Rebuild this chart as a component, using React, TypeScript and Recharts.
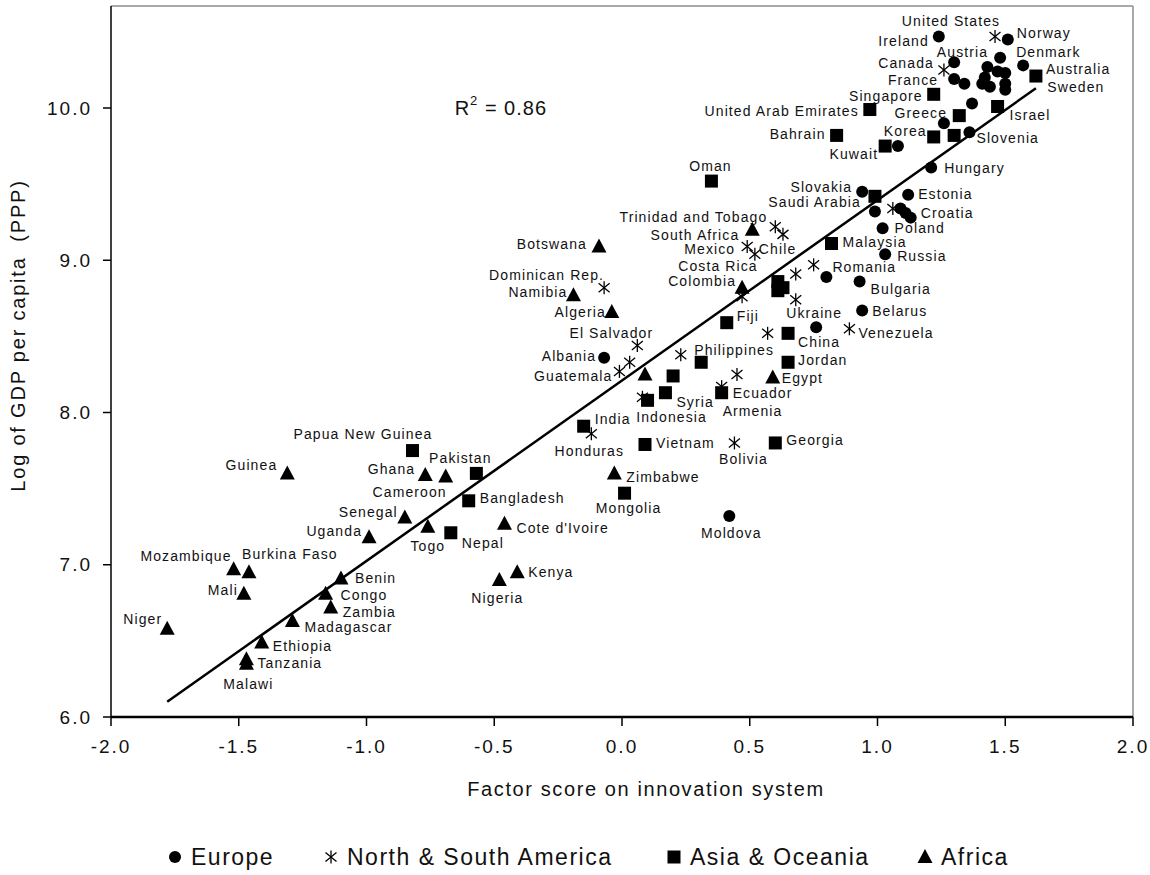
import React from 'react';
import { ScatterChart, Scatter, XAxis, YAxis, ReferenceLine } from 'recharts';

const FONT = '"Liberation Sans", Arial, Helvetica, sans-serif';

type Pt = { name: string; x: number; y: number };

const europe: Pt[] = [
  { name: 'Ireland', x: 1.24, y: 10.47 },
  { name: 'Norway', x: 1.51, y: 10.45 },
  { name: 'Austria', x: 1.48, y: 10.33 },
  { name: '', x: 1.3, y: 10.3 },
  { name: 'France', x: 1.3, y: 10.19 },
  { name: '', x: 1.34, y: 10.16 },
  { name: '', x: 1.43, y: 10.27 },
  { name: '', x: 1.42, y: 10.2 },
  { name: '', x: 1.41, y: 10.16 },
  { name: '', x: 1.44, y: 10.14 },
  { name: '', x: 1.47, y: 10.24 },
  { name: '', x: 1.5, y: 10.23 },
  { name: '', x: 1.5, y: 10.16 },
  { name: 'Sweden', x: 1.5, y: 10.12 },
  { name: 'Denmark', x: 1.57, y: 10.28 },
  { name: 'Greece', x: 1.37, y: 10.03 },
  { name: '', x: 1.26, y: 9.9 },
  { name: 'Slovenia', x: 1.36, y: 9.84 },
  { name: '', x: 1.08, y: 9.75 },
  { name: 'Hungary', x: 1.21, y: 9.61 },
  { name: 'Slovakia', x: 0.94, y: 9.45 },
  { name: 'Estonia', x: 1.12, y: 9.43 },
  { name: '', x: 0.99, y: 9.32 },
  { name: '', x: 1.09, y: 9.34 },
  { name: '', x: 1.11, y: 9.31 },
  { name: 'Croatia', x: 1.13, y: 9.28 },
  { name: 'Poland', x: 1.02, y: 9.21 },
  { name: 'Russia', x: 1.03, y: 9.04 },
  { name: 'Romania', x: 0.8, y: 8.89 },
  { name: 'Bulgaria', x: 0.93, y: 8.86 },
  { name: 'Belarus', x: 0.94, y: 8.67 },
  { name: 'Ukraine', x: 0.76, y: 8.56 },
  { name: 'Albania', x: -0.07, y: 8.36 },
  { name: 'Moldova', x: 0.42, y: 7.32 },
];

const americas: Pt[] = [
  { name: 'United States', x: 1.46, y: 10.47 },
  { name: 'Canada', x: 1.26, y: 10.25 },
  { name: '', x: 1.06, y: 9.34 },
  { name: 'Trinidad and Tobago', x: 0.6, y: 9.22 },
  { name: '', x: 0.63, y: 9.17 },
  { name: 'Mexico', x: 0.49, y: 9.09 },
  { name: 'Chile', x: 0.52, y: 9.04 },
  { name: '', x: 0.75, y: 8.97 },
  { name: 'Costa Rica', x: 0.68, y: 8.91 },
  { name: '', x: 0.68, y: 8.74 },
  { name: 'Colombia', x: 0.47, y: 8.76 },
  { name: 'Venezuela', x: 0.89, y: 8.55 },
  { name: '', x: 0.57, y: 8.52 },
  { name: 'Dominican Rep.', x: -0.07, y: 8.82 },
  { name: 'El Salvador', x: 0.06, y: 8.44 },
  { name: 'Guatemala', x: -0.01, y: 8.27 },
  { name: '', x: 0.03, y: 8.33 },
  { name: '', x: 0.23, y: 8.38 },
  { name: '', x: 0.45, y: 8.25 },
  { name: 'Ecuador', x: 0.39, y: 8.17 },
  { name: '', x: 0.08, y: 8.1 },
  { name: 'Honduras', x: -0.12, y: 7.86 },
  { name: 'Bolivia', x: 0.44, y: 7.8 },
];

const asia: Pt[] = [
  { name: 'Australia', x: 1.62, y: 10.21 },
  { name: 'Singapore', x: 1.22, y: 10.09 },
  { name: 'United Arab Emirates', x: 0.97, y: 9.99 },
  { name: '', x: 1.32, y: 9.95 },
  { name: 'Israel', x: 1.47, y: 10.01 },
  { name: 'Korea', x: 1.22, y: 9.81 },
  { name: '', x: 1.3, y: 9.82 },
  { name: 'Bahrain', x: 0.84, y: 9.82 },
  { name: 'Kuwait', x: 1.03, y: 9.75 },
  { name: 'Oman', x: 0.35, y: 9.52 },
  { name: 'Saudi Arabia', x: 0.99, y: 9.42 },
  { name: 'Malaysia', x: 0.82, y: 9.11 },
  { name: '', x: 0.61, y: 8.86 },
  { name: '', x: 0.63, y: 8.82 },
  { name: '', x: 0.61, y: 8.8 },
  { name: 'Fiji', x: 0.41, y: 8.59 },
  { name: 'China', x: 0.65, y: 8.52 },
  { name: 'Jordan', x: 0.65, y: 8.33 },
  { name: '', x: 0.2, y: 8.24 },
  { name: 'Philippines', x: 0.31, y: 8.33 },
  { name: 'Armenia', x: 0.39, y: 8.13 },
  { name: 'Syria', x: 0.17, y: 8.13 },
  { name: 'Indonesia', x: 0.1, y: 8.08 },
  { name: 'India', x: -0.15, y: 7.91 },
  { name: 'Vietnam', x: 0.09, y: 7.79 },
  { name: 'Georgia', x: 0.6, y: 7.8 },
  { name: 'Papua New Guinea', x: -0.82, y: 7.75 },
  { name: 'Pakistan', x: -0.57, y: 7.6 },
  { name: 'Bangladesh', x: -0.6, y: 7.42 },
  { name: 'Nepal', x: -0.67, y: 7.21 },
  { name: 'Mongolia', x: 0.01, y: 7.47 },
];

const africa: Pt[] = [
  { name: 'South Africa', x: 0.51, y: 9.2 },
  { name: 'Botswana', x: -0.09, y: 9.09 },
  { name: 'Namibia', x: -0.19, y: 8.77 },
  { name: 'Algeria', x: -0.04, y: 8.66 },
  { name: '', x: 0.47, y: 8.82 },
  { name: '', x: 0.09, y: 8.25 },
  { name: 'Egypt', x: 0.59, y: 8.23 },
  { name: 'Zimbabwe', x: -0.03, y: 7.6 },
  { name: 'Guinea', x: -1.31, y: 7.6 },
  { name: 'Ghana', x: -0.77, y: 7.59 },
  { name: 'Cameroon', x: -0.69, y: 7.58 },
  { name: 'Senegal', x: -0.85, y: 7.31 },
  { name: 'Togo', x: -0.76, y: 7.25 },
  { name: 'Uganda', x: -0.99, y: 7.18 },
  { name: "Cote d'Ivoire", x: -0.46, y: 7.27 },
  { name: 'Kenya', x: -0.41, y: 6.95 },
  { name: 'Nigeria', x: -0.48, y: 6.9 },
  { name: 'Mozambique', x: -1.52, y: 6.97 },
  { name: 'Burkina Faso', x: -1.46, y: 6.95 },
  { name: 'Mali', x: -1.48, y: 6.81 },
  { name: 'Niger', x: -1.78, y: 6.58 },
  { name: 'Benin', x: -1.1, y: 6.91 },
  { name: 'Congo', x: -1.16, y: 6.81 },
  { name: 'Zambia', x: -1.14, y: 6.72 },
  { name: 'Madagascar', x: -1.29, y: 6.63 },
  { name: 'Ethiopia', x: -1.41, y: 6.49 },
  { name: 'Tanzania', x: -1.47, y: 6.38 },
  { name: 'Malawi', x: -1.47, y: 6.35 },
];

const xTicks = [-2, -1.5, -1, -0.5, 0, 0.5, 1, 1.5, 2];
const yTicks = [6, 7, 8, 9, 10];
const xDomain: [number, number] = [-2, 2];
const yDomain: [number, number] = [6, 10.67];
const seriesNames = ['Europe', 'North & South America', 'Asia & Oceania', 'Africa'];
const xTitle = 'Factor score on innovation system';
const yTitle = 'Log of GDP per capita  (PPP)';
const fit = { slope: 1.185, intercept: 8.21, xFrom: -1.78, xTo: 1.62 };
const r2Value = '0.86';
const r2Anchor = [{ x: -0.655, y: 10.0 }];

// label placement: [anchor, dx, dy] in pixels relative to marker
const labelPlacement: Record<string, [string, number, number]> = {
  Ireland: ['end', -10, 5],
  Norway: ['start', 9, -6],
  Austria: ['end', -12, -6],
  France: ['end', -16, 1],
  Sweden: ['start', 42, -3],
  Denmark: ['start', -7, -13],
  Greece: ['end', -25, 10],
  Slovenia: ['start', 7, 6],
  Hungary: ['start', 13, 1],
  Slovakia: ['end', -10, -5],
  Estonia: ['start', 10, -1],
  Croatia: ['start', 10, -5],
  Poland: ['start', 12, 0],
  Russia: ['start', 12, 2],
  Romania: ['start', 6, -10],
  Bulgaria: ['start', 11, 7],
  Belarus: ['start', 10, 1],
  Ukraine: ['middle', -2, -14],
  Albania: ['end', -8, -2],
  Moldova: ['middle', 2, 17],
  'United States': ['middle', -44, -15],
  Canada: ['end', -10, -7],
  'Trinidad and Tobago': ['end', -8, -10],
  Mexico: ['end', -12, 2],
  Chile: ['start', 4, -5],
  'Costa Rica': ['end', -38, -8],
  Colombia: ['end', -6, -16],
  Venezuela: ['start', 9, 4],
  'Dominican Rep.': ['end', 0, -13],
  'El Salvador': ['middle', -26, -13],
  Guatemala: ['end', -7, 5],
  Ecuador: ['start', 11, 6],
  Honduras: ['middle', -2, 17],
  Bolivia: ['middle', 9, 16],
  Australia: ['start', 10, -7],
  Singapore: ['end', -11, 2],
  'United Arab Emirates': ['end', -11, 1],
  Israel: ['start', 12, 9],
  Korea: ['end', -7, -6],
  Bahrain: ['end', -11, -1],
  Kuwait: ['end', -7, 8],
  Oman: ['middle', -1, -15],
  'Saudi Arabia': ['end', -14, 6],
  Malaysia: ['start', 11, -2],
  Fiji: ['start', 10, -7],
  China: ['start', 10, 9],
  Jordan: ['start', 10, -2],
  Philippines: ['start', -7, -12],
  Armenia: ['start', 1, 18],
  Syria: ['start', 11, 9],
  Indonesia: ['middle', 24, 17],
  India: ['start', 11, -7],
  Vietnam: ['start', 11, -1],
  Georgia: ['start', 11, -3],
  'Papua New Guinea': ['end', 20, -17],
  Pakistan: ['middle', -16, -15],
  Bangladesh: ['start', 11, -3],
  Nepal: ['start', 11, 10],
  Mongolia: ['middle', 4, 15],
  'South Africa': ['end', -13, 5],
  Botswana: ['end', -12, -3],
  Namibia: ['end', -6, -3],
  Algeria: ['end', -6, 0],
  Egypt: ['start', 9, 1],
  Zimbabwe: ['start', 12, 4],
  Guinea: ['end', -10, -8],
  Ghana: ['end', -10, -6],
  Cameroon: ['end', 1, 16],
  Senegal: ['end', -7, -6],
  Togo: ['middle', 0, 19],
  Uganda: ['end', -7, -6],
  "Cote d'Ivoire": ['start', 12, 4],
  Kenya: ['start', 11, 0],
  Nigeria: ['middle', -2, 18],
  Mozambique: ['end', -2, -13],
  'Burkina Faso': ['start', -7, -18],
  Mali: ['end', -6, -4],
  Niger: ['end', -5, -10],
  Benin: ['start', 14, 0],
  Congo: ['start', 15, 1],
  Zambia: ['start', 12, 5],
  Madagascar: ['start', 12, 6],
  Ethiopia: ['start', 11, 4],
  Tanzania: ['start', 11, 4],
  Malawi: ['middle', 2, 20],
};

type Kind = 'circle' | 'star' | 'square' | 'triangle';

function Glyph({ kind, cx, cy, s = 1 }: { kind: Kind; cx: number; cy: number; s?: number }) {
  if (kind === 'circle') return <circle cx={cx} cy={cy} r={6 * s} fill="#000" />;
  if (kind === 'square')
    return <rect x={cx - 6.5 * s} y={cy - 6.5 * s} width={13 * s} height={13 * s} fill="#000" />;
  if (kind === 'triangle')
    return (
      <polygon
        points={`${cx},${cy - 8 * s} ${cx - 7.5 * s},${cy + 6 * s} ${cx + 7.5 * s},${cy + 6 * s}`}
        fill="#000"
      />
    );
  return (
    <g stroke="#000" strokeWidth={1.3} fill="none">
      <line x1={cx} y1={cy - 6.5 * s} x2={cx} y2={cy + 6.5 * s} />
      <line x1={cx - 5.5 * s} y1={cy - 4.5 * s} x2={cx + 5.5 * s} y2={cy + 4.5 * s} />
      <line x1={cx - 5.5 * s} y1={cy + 4.5 * s} x2={cx + 5.5 * s} y2={cy - 4.5 * s} />
    </g>
  );
}

const makeShape = (kind: Kind) => (props: any) => {
  const { cx, cy, payload } = props;
  if (cx == null || cy == null) return <g />;
  const name = payload && payload.name;
  const lp = name ? labelPlacement[name] : undefined;
  return (
    <g>
      <Glyph kind={kind} cx={cx} cy={cy} />
      {lp ? (
        <text
          x={cx + lp[1]}
          y={cy + lp[2]}
          textAnchor={lp[0] as any}
          dominantBaseline="central"
          fontSize={14}
          fontFamily={FONT}
          letterSpacing={1.1}
          fill="#111"
        >
          {name}
        </text>
      ) : null}
    </g>
  );
};

const r2Shape = (props: any) => {
  const { cx, cy } = props;
  return (
    <text x={cx} y={cy} dominantBaseline="central" fontSize={20} fontFamily={FONT} fill="#111" letterSpacing={1}>
      R
      <tspan fontSize={13} dy={-8}>2</tspan>
      <tspan dy={8}>{' = ' + r2Value}</tspan>
    </text>
  );
};

const xLabel = (props: any) => {
  const vb = props.viewBox || {};
  return (
    <text
      x={vb.x + vb.width / 2 + 24}
      y={vb.y + 72}
      textAnchor="middle"
      dominantBaseline="central"
      fontSize={20}
      fontFamily={FONT}
      letterSpacing={1.6}
      fill="#111"
    >
      {xTitle}
    </text>
  );
};

const yLabel = (props: any) => {
  const vb = props.viewBox || {};
  const x = vb.x + 18;
  const y = vb.y + vb.height / 2 - 26;
  return (
    <text
      x={x}
      y={y}
      transform={`rotate(-90, ${x}, ${y})`}
      textAnchor="middle"
      dominantBaseline="central"
      fontSize={20}
      fontFamily={FONT}
      letterSpacing={1.8}
      fill="#111"
      style={{ whiteSpace: 'pre' }}
    >
      {yTitle}
    </text>
  );
};

const fitSegment = [
  { x: fit.xFrom, y: fit.intercept + fit.slope * fit.xFrom },
  { x: fit.xTo, y: fit.intercept + fit.slope * fit.xTo },
];

const legendKinds: Kind[] = ['circle', 'star', 'square', 'triangle'];
const legendGlyphX = [175, 331, 674, 925];

export default function App() {
  const tickStyle = { fontSize: 19, fill: '#111', fontFamily: FONT, letterSpacing: 2 };
  return (
    <div style={{ position: 'absolute', left: 0, top: 0, width: 1150, height: 875, background: '#fff' }}>
      <ScatterChart width={1150} height={875} margin={{ top: 6, right: 17, left: 0, bottom: 0 }}>
        <XAxis
          type="number"
          dataKey="x"
          domain={xDomain}
          ticks={xTicks}
          interval={0}
          allowDataOverflow
          tickFormatter={(v: number) => v.toFixed(1)}
          tick={tickStyle}
          tickSize={9}
          tickMargin={14}
          axisLine={{ stroke: '#000', strokeWidth: 2.5 }}
          tickLine={{ stroke: '#000', strokeWidth: 1.5 }}
          height={158}
          label={xLabel}
        />
        <YAxis
          type="number"
          dataKey="y"
          domain={yDomain}
          ticks={yTicks}
          interval={0}
          allowDataOverflow
          tickFormatter={(v: number) => v.toFixed(1)}
          tick={tickStyle}
          tickSize={8}
          tickMargin={11}
          axisLine={{ stroke: '#000', strokeWidth: 1.5 }}
          tickLine={{ stroke: '#000', strokeWidth: 1.5 }}
          width={111}
          label={yLabel}
        />
        <ReferenceLine y={yDomain[1]} stroke="#8c8c8c" strokeWidth={1.5} />
        <ReferenceLine x={xDomain[1]} stroke="#8c8c8c" strokeWidth={1.5} />
        <ReferenceLine segment={fitSegment} stroke="#000" strokeWidth={2.5} />
        <Scatter name={seriesNames[0]} data={europe} shape={makeShape('circle')} isAnimationActive={false} />
        <Scatter name={seriesNames[1]} data={americas} shape={makeShape('star')} isAnimationActive={false} />
        <Scatter name={seriesNames[2]} data={asia} shape={makeShape('square')} isAnimationActive={false} />
        <Scatter name={seriesNames[3]} data={africa} shape={makeShape('triangle')} isAnimationActive={false} />
        <Scatter data={r2Anchor} shape={r2Shape} isAnimationActive={false} />
      </ScatterChart>
      <svg width={1150} height={40} style={{ position: 'absolute', left: 0, top: 837 }}>
        {seriesNames.map((n, i) => (
          <g key={n}>
            <Glyph kind={legendKinds[i]} cx={legendGlyphX[i]} cy={20} />
            <text
              x={legendGlyphX[i] + 16}
              y={20}
              dominantBaseline="central"
              fontSize={23}
              fontFamily={FONT}
              letterSpacing={1.5}
              fill="#111"
            >
              {n}
            </text>
          </g>
        ))}
      </svg>
    </div>
  );
}
